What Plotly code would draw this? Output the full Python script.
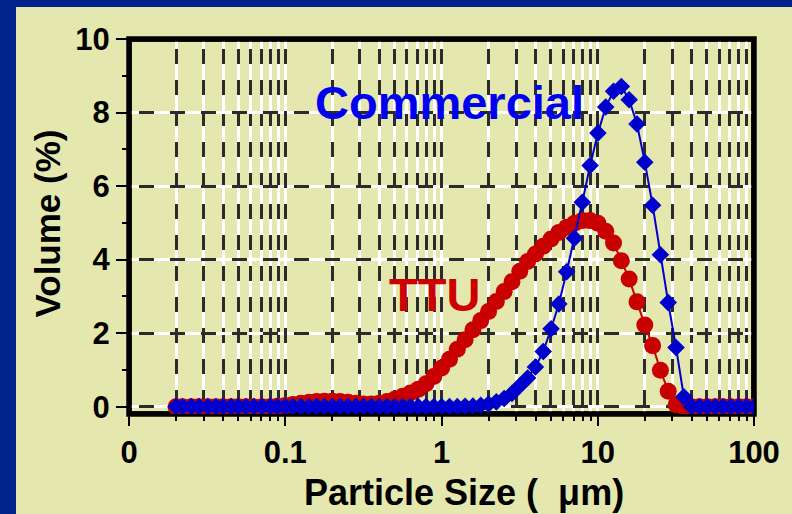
import plotly.graph_objects as go

# ---- data ----
size_um = [0.020, 0.022, 0.025, 0.028, 0.032, 0.036, 0.040, 0.045, 0.050, 0.056,
           0.063, 0.071, 0.080, 0.089, 0.100, 0.112, 0.126, 0.142, 0.159, 0.178,
           0.200, 0.224, 0.252, 0.283, 0.317, 0.356, 0.399, 0.448, 0.502, 0.564,
           0.632, 0.710, 0.796, 0.893, 1.002, 1.125, 1.262, 1.416, 1.589, 1.783,
           2.000, 2.244, 2.518, 2.825, 3.170, 3.557, 3.991, 4.477, 5.024, 5.637,
           6.325, 7.096, 7.962, 8.934, 10.024, 11.247, 12.619, 14.159, 15.887, 17.825,
           20.000, 22.440, 25.179, 28.251, 31.698, 35.566, 39.905, 44.774, 50.238, 56.368,
           63.246, 70.963, 79.621, 89.337, 100.237]

ttu = [0.00, 0.00, 0.00, 0.00, 0.00, 0.00, 0.00, 0.00, 0.00, 0.00,
       0.00, 0.00, 0.00, 0.01, 0.03, 0.06, 0.09, 0.12, 0.14, 0.15,
       0.15, 0.14, 0.12, 0.09, 0.07, 0.07, 0.09, 0.14, 0.20, 0.28,
       0.37, 0.47, 0.62, 0.82, 1.05, 1.29, 1.56, 1.82, 2.09, 2.34,
       2.59, 2.86, 3.13, 3.40, 3.68, 3.95, 4.15, 4.36, 4.56, 4.74,
       4.88, 4.99, 5.06, 5.06, 4.99, 4.77, 4.45, 3.97, 3.47, 2.85,
       2.22, 1.66, 0.99, 0.42, 0.05, 0.00, 0.00, 0.00, 0.00, 0.00,
       0.00, 0.00, 0.00, 0.00, 0.00]

commercial = [0.00, 0.00, 0.00, 0.00, 0.00, 0.00, 0.00, 0.00, 0.00, 0.00,
              0.00, 0.00, 0.00, 0.00, 0.00, 0.00, 0.00, 0.00, 0.00, 0.00,
              0.00, 0.00, 0.00, 0.00, 0.00, 0.00, 0.00, 0.00, 0.00, 0.00,
              0.00, 0.00, 0.00, 0.00, 0.00, 0.00, 0.00, 0.01, 0.02, 0.04,
              0.07, 0.13, 0.22, 0.36, 0.57, 0.78, 1.08, 1.50, 2.12, 2.79,
              3.67, 4.58, 5.56, 6.56, 7.44, 8.15, 8.58, 8.71, 8.35, 7.69,
              6.65, 5.48, 4.13, 2.83, 1.61, 0.27, 0.00, 0.00, 0.00, 0.00,
              0.00, 0.00, 0.00, 0.00, 0.00]

x_tick_vals = [0.01, 0.1, 1, 10, 100]
x_tick_text = ["0", "0.1", "1", "10", "100"]
y_tick_vals = [0, 2, 4, 6, 8, 10]
y_tick_text = ["0", "2", "4", "6", "8", "10"]
y_minor_vals = [1, 3, 5, 7, 9]

# ---- styling ----
W, H = 792, 514
L, R, T, B = 129, 38, 39, 100
PW, PH = W - L - R, H - T - B
X_RANGE = [-2, 2]
Y_RANGE = [-0.2, 10]

BLUE_BG = "#00238C"
BEIGE = "#E5E8AE"
RED = "#C80000"
BLUE = "#0000CC"
DASHC = "#2B2B2B"
FONT = "Liberation Sans, Arial, sans-serif"
DASH = "0px,10px,15px,6px"
FRAME_W = 5.5

x_minor_vals = [m * 10.0 ** e for e in (-2, -1, 0, 1) for m in range(2, 10)]


def px_x(p):
    return (p - L) / PW


def px_y(p):
    return (H - B - p) / PH


fig = go.Figure()
fig.add_trace(go.Scatter(
    x=size_um, y=ttu, mode="lines+markers", name="TTU",
    line=dict(color=RED, width=2),
    marker=dict(symbol="circle", size=17, color=RED),
    showlegend=False))
fig.add_trace(go.Scatter(
    x=size_um, y=commercial, mode="lines+markers", name="Commercial",
    line=dict(color=BLUE, width=2),
    marker=dict(symbol="diamond", size=13.5, color=BLUE),
    showlegend=False))
# empty trace to create the overlay subplot used for the dashed grid
fig.add_trace(go.Scatter(x=[], y=[], xaxis="x2", yaxis="y2", showlegend=False,
                         hoverinfo="skip"))

tickfont = dict(family=FONT, size=31, color="black", weight="bold")

fig.update_layout(
    width=W, height=H,
    margin=dict(l=L, r=R, t=T, b=B, pad=0),
    paper_bgcolor=BLUE_BG,
    plot_bgcolor=BEIGE,
    showlegend=False,
    xaxis=dict(
        type="log", range=X_RANGE, tickmode="array",
        tickvals=x_tick_vals, ticktext=x_tick_text,
        ticks="outside", ticklen=11, tickwidth=2, tickcolor="black",
        tickfont=tickfont, showgrid=True, gridcolor="white", gridwidth=3,
        zeroline=False, showline=False,
        minor=dict(tickmode="array", tickvals=x_minor_vals, ticks="outside",
                   ticklen=6, tickwidth=2, tickcolor="black",
                   showgrid=True, gridcolor="white", gridwidth=3),
    ),
    yaxis=dict(
        range=Y_RANGE, tickmode="array",
        tickvals=y_tick_vals, ticktext=y_tick_text,
        ticks="outside", ticklen=12, tickwidth=2, tickcolor="black",
        tickfont=tickfont, showgrid=True, gridcolor="white", gridwidth=3,
        zeroline=False, showline=False,
        minor=dict(tickmode="array", tickvals=y_minor_vals, ticks="outside",
                   ticklen=6, tickwidth=2, tickcolor="black", showgrid=False),
    ),
    xaxis2=dict(
        type="log", range=X_RANGE, overlaying="x", anchor="y2", side="bottom",
        tickmode="array", tickvals=x_tick_vals, showticklabels=False, ticks="",
        showgrid=True, gridcolor=DASHC, gridwidth=3, griddash=DASH,
        zeroline=False, showline=False,
        minor=dict(tickmode="array", tickvals=x_minor_vals, ticks="",
                   showgrid=True, gridcolor=DASHC, gridwidth=3, griddash=DASH),
    ),
    yaxis2=dict(
        range=Y_RANGE, overlaying="y", anchor="x2", side="left",
        tickmode="array", tickvals=y_tick_vals, showticklabels=False, ticks="",
        showgrid=True, gridcolor=DASHC, gridwidth=3, griddash=DASH,
        zeroline=False, showline=False,
    ),
    shapes=[
        # beige panel
        dict(type="rect", xref="paper", yref="paper", layer="below",
             x0=px_x(16), x1=px_x(W + 5), y0=px_y(H + 5), y1=px_y(7),
             fillcolor=BEIGE, line=dict(width=0)),
        # plot frame, outer half (below everything)
        dict(type="rect", xref="paper", yref="paper", layer="below",
             x0=0, x1=1, y0=0, y1=1, line=dict(color="black", width=FRAME_W)),
        # plot frame, inner half (above grid, below traces; clipped to plot area)
        dict(type="rect", xref="x", yref="y", layer="between",
             x0=10 ** X_RANGE[0], x1=10 ** X_RANGE[1],
             y0=Y_RANGE[0], y1=Y_RANGE[1],
             line=dict(color="black", width=FRAME_W)),
    ],
    annotations=[
        dict(text="Commercial", x=px_x(450), y=px_y(103), xref="paper", yref="paper",
             showarrow=False, xanchor="center", yanchor="middle",
             font=dict(family=FONT, size=47, color="#0000F0", weight="bold")),
        dict(text="TTU", x=px_x(434), y=px_y(294), xref="paper", yref="paper",
             showarrow=False, xanchor="center", yanchor="middle",
             font=dict(family=FONT, size=47, color="#CC0000", weight="bold")),
        dict(text="Volume (%)", x=px_x(47.5), y=px_y(224), xref="paper", yref="paper",
             showarrow=False, xanchor="center", yanchor="middle", textangle=-90,
             font=dict(family=FONT, size=35, color="black", weight="bold")),
        dict(text="Particle Size (  μm)", x=px_x(463.5), y=px_y(492.5),
             xref="paper", yref="paper",
             showarrow=False, xanchor="center", yanchor="middle",
             font=dict(family=FONT, size=36, color="black", weight="bold")),
    ],
)

fig.write_html("out.html")
